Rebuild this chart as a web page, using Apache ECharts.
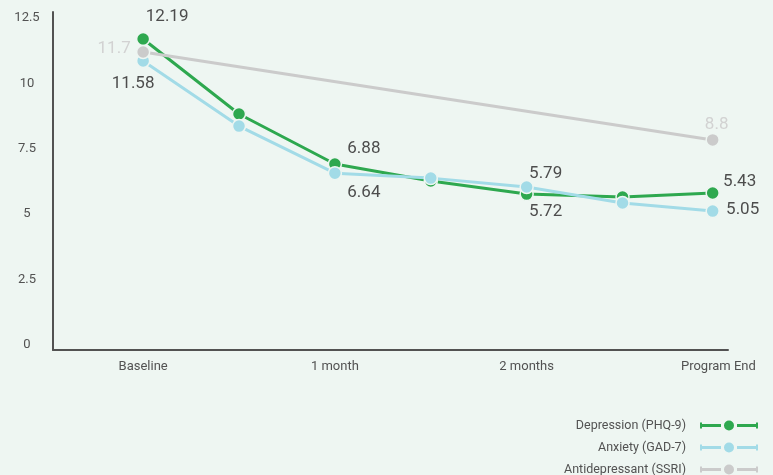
<!DOCTYPE html>
<html>
<head>
<meta charset="utf-8">
<script src="https://cdn.jsdelivr.net/npm/echarts@6/dist/echarts.min.js"></script>
<style>
  html, body { margin: 0; padding: 0; background: #eef6f2; }
  #chart { width: 773px; height: 475px; }
</style>
</head>
<body>
<div id="chart"></div>
<script>
// x positions in months (Program End sits a bit before 3)
const depX = [0, 0.5, 1, 1.5, 2, 2.5, 2.97];
const depValues = [11.7, 8.83, 6.92, 6.27, 5.77, 5.66, 5.81];
const depLabels = ['12.19', null, '6.88', null, '5.72', null, '5.43'];

const anxX = [0, 0.5, 1, 1.5, 2, 2.5, 2.97];
const anxValues = [10.86, 8.37, 6.57, 6.38, 6.04, 5.43, 5.12];
const anxLabels = ['11.58', null, '6.64', null, '5.79', null, '5.05'];

const ssriX = [0, 2.97];
const ssriValues = [11.2, 7.84];
const ssriLabels = ['11.7', '8.8'];

const xTickValues = [0, 1, 2, 3];
const xTickLabels = ['Baseline', '1 month', '2 months', 'Program End'];
const yTickValues = [0, 2.5, 5, 7.5, 10, 12.5];

const seriesNames = ['Depression (PHQ-9)', 'Anxiety (GAD-7)', 'Antidepressant (SSRI)'];

// label placement around each point (centre offsets in px)
const depOffsets = [[24, -22], null, [29, -15], null, [19, 18], null, [27, -11]];
const anxOffsets = [[-10, 23], null, [29, 20], null, [19, -13], null, [30, -1]];
const ssriOffsets = [[-29, -3], [4, -15]];

const bg = '#eef6f2';
// legend glyph: capped line with a dot in the middle
const legendIcon = 'path://M0,2h2v6h-2z M0,3.5h21v3h-21z M24,5a5,5 0 1,0 10,0a5,5 0 1,0 -10,0z M37,3.5h21v3h-21z M56,2h2v6h-2z';

const buildData = (xs, ys, labels, offsets, color) => xs.map((x, i) => {
  const item = { value: [x, ys[i]] };
  if (labels[i]) {
    item.label = {
      show: true,
      formatter: labels[i],
      position: 'inside',
      offset: offsets[i],
      color: color,
      fontSize: 17,
      fontFamily: 'Roboto'
    };
  }
  return item;
});

const makeSeries = (name, color, data) => ({
  name: name,
  type: 'line',
  data: data,
  symbol: 'circle',
  symbolSize: 13,
  lineStyle: { width: 3, color: color },
  itemStyle: { color: color, borderColor: bg, borderWidth: 1.5 },
  emphasis: { disabled: true },
  label: { show: false }
});

const myChart = echarts.init(document.getElementById('chart'));
myChart.setOption({
  animation: false,
  backgroundColor: bg,
  grid: { left: 53, right: 45, top: 12, bottom: 125, outerBoundsMode: 'none' },
  xAxis: {
    type: 'value',
    min: -0.47,
    max: 3.05,
    splitLine: { show: false },
    axisTick: { show: false },
    axisLine: { onZero: false, lineStyle: { color: '#525252', width: 2 } },
    axisLabel: {
      customValues: xTickValues,
      formatter: v => xTickLabels[xTickValues.indexOf(v)] || '',
      color: '#525252',
      fontSize: 13,
      fontFamily: 'Roboto',
      margin: 10
    }
  },
  yAxis: {
    type: 'value',
    min: -0.19,
    max: 12.73,
    splitLine: { show: false },
    axisTick: { show: false },
    axisLine: { show: true, onZero: false, lineStyle: { color: '#525252', width: 2 } },
    axisLabel: {
      customValues: yTickValues,
      color: '#525252',
      fontSize: 13,
      fontFamily: 'Roboto',
      align: 'center',
      margin: 26
    }
  },
  legend: {
    orient: 'vertical',
    right: 15,
    top: 419,
    height: 100,
    padding: 0,
    align: 'right',
    itemWidth: 58,
    itemHeight: 10,
    itemGap: 9,
    itemStyle: { borderWidth: 0 },
    textStyle: { color: '#525252', fontSize: 12.5, fontFamily: 'Roboto', padding: [0, 9, 0, 0] },
    data: seriesNames.map(n => ({ name: n, icon: legendIcon }))
  },
  series: [
    makeSeries(seriesNames[0], '#2ea84f', buildData(depX, depValues, depLabels, depOffsets, '#4d4d4d')),
    makeSeries(seriesNames[1], '#a2dbe7', buildData(anxX, anxValues, anxLabels, anxOffsets, '#4d4d4d')),
    makeSeries(seriesNames[2], '#cbcbcb', buildData(ssriX, ssriValues, ssriLabels, ssriOffsets, '#d2d2d2'))
  ]
});
</script>
</body>
</html>
